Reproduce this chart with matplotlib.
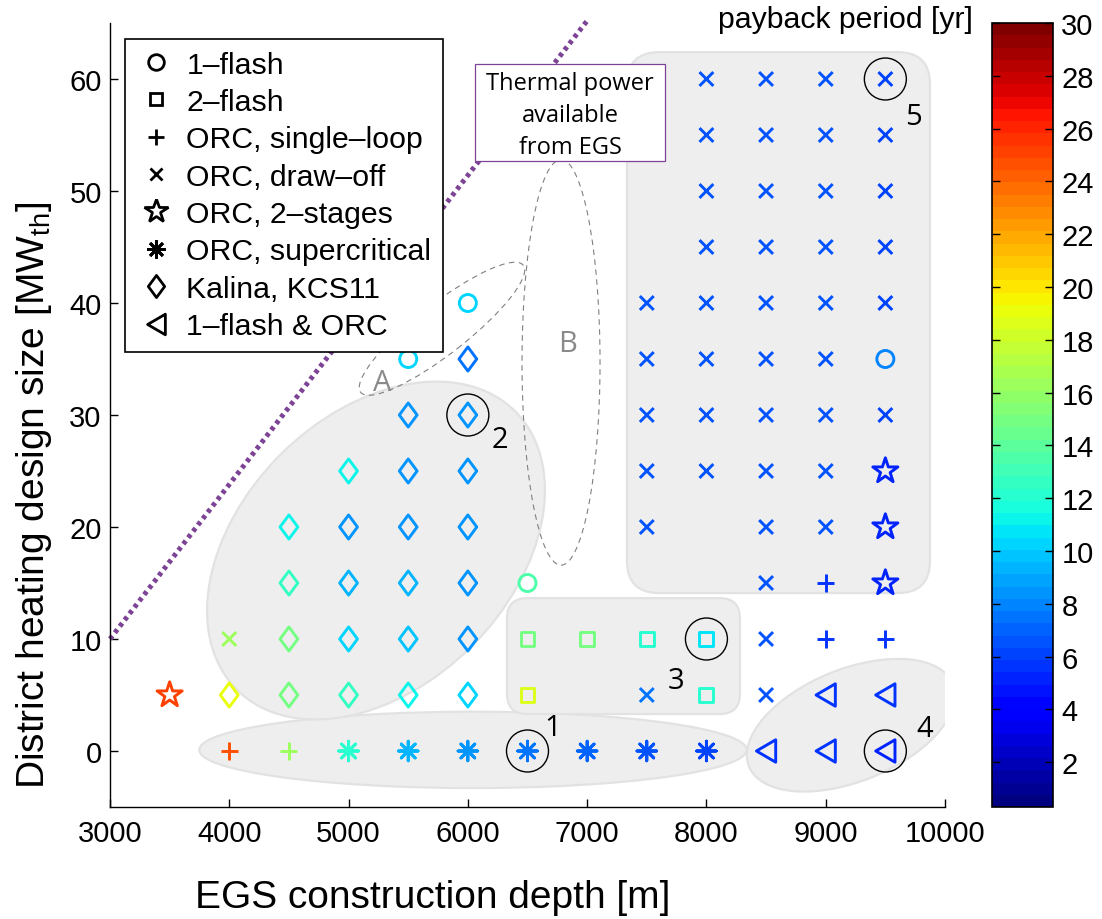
import numpy as np
import matplotlib
matplotlib.use('Agg')
import matplotlib.pyplot as plt
from matplotlib.colors import Normalize
from matplotlib.cm import ScalarMappable
from matplotlib.patches import Ellipse, FancyBboxPatch, Rectangle
from matplotlib.path import Path
from matplotlib.lines import Line2D
from matplotlib.transforms import Affine2D

plt.rcParams['font.family'] = ['Liberation Sans', 'DejaVu Sans']
plt.rcParams['mathtext.fontset'] = 'custom'
plt.rcParams['mathtext.rm'] = 'Liberation Sans'
plt.rcParams['mathtext.it'] = 'Liberation Sans:italic'

# ---- data: EGS depth [m], district heating size [MW_th], payback period [yr]
flash1_depth = [6500, 5500, 9500, 6000]
flash1_size = [15, 35, 35, 40]
flash1_payback = [13.4, 10.4, 8.0, 10.4]

flash2_depth = [6500, 8000, 6500, 7000, 7500, 8000]
flash2_size = [5, 5, 10, 10, 10, 10]
flash2_payback = [18.8, 12.0, 14.9, 14.7, 12.0, 10.6]

single_depth = [4000, 4500, 9000, 9500, 9000]
single_size = [0, 0, 10, 10, 15]
single_payback = [24.5, 16.2, 5.8, 5.8, 5.8]

drawoff_depth = [4000, 7500, 8500, 8500, 8500,
                 7500, 8500, 9000,
                 7500, 8000, 8500, 9000,
                 7500, 8000, 8500, 9000, 9500,
                 7500, 8000, 8500, 9000,
                 7500, 8000, 8500, 9000, 9500,
                 8000, 8500, 9000, 9500,
                 8000, 8500, 9000, 9500,
                 8000, 8500, 9000, 9500,
                 8000, 8500, 9000, 9500]
drawoff_size = [10, 5, 5, 10, 15,
                20, 20, 20,
                25, 25, 25, 25,
                30, 30, 30, 30, 30,
                35, 35, 35, 35,
                40, 40, 40, 40, 40,
                45, 45, 45, 45,
                50, 50, 50, 50,
                55, 55, 55, 55,
                60, 60, 60, 60]
drawoff_payback = [16.2, 7.3, 6.5, 6.5, 6.5,
                   6.6, 6.5, 6.4,
                   6.6, 6.5, 6.5, 6.4,
                   6.6, 6.5, 6.5, 6.4, 6.0,
                   6.6, 6.5, 6.5, 6.4,
                   6.6, 6.5, 6.5, 6.4, 6.0,
                   6.5, 6.5, 6.4, 6.1,
                   6.5, 6.5, 6.4, 6.1,
                   6.5, 6.5, 6.4, 6.1,
                   6.5, 6.5, 6.4, 6.1]

stage2_depth = [3500, 9500, 9500, 9500]
stage2_size = [5, 15, 20, 25]
stage2_payback = [24.9, 5.2, 5.3, 5.4]

super_depth = [5000, 5500, 6000, 6500, 7000, 7500, 8000]
super_size = [0, 0, 0, 0, 0, 0, 0]
super_payback = [12.1, 9.5, 8.5, 7.3, 6.8, 6.4, 6.2]

kalina_depth = [4000, 4500, 5000, 5500, 6000,
                4500, 5000, 5500, 6000,
                4500, 5000, 5500, 6000,
                4500, 5000, 5500, 6000,
                5000, 5500, 6000,
                5500, 6000,
                6000]
kalina_size = [5, 5, 5, 5, 5,
               10, 10, 10, 10,
               15, 15, 15, 15,
               20, 20, 20, 20,
               25, 25, 25,
               30, 30,
               35]
kalina_payback = [19.0, 14.9, 12.4, 11.0, 10.3,
                  14.9, 10.4, 9.8, 8.5,
                  12.6, 9.5, 9.5, 8.5,
                  11.3, 8.5, 8.3, 8.3,
                  11.0, 8.2, 8.2,
                  8.2, 8.2,
                  7.7]

hybrid_depth = [8500, 9000, 9500, 9000, 9500]
hybrid_size = [0, 0, 0, 5, 5]
hybrid_payback = [5.5, 5.5, 5.4, 5.5, 5.5]

cycle_names = ['1\u2013flash', '2\u2013flash', 'ORC, single\u2013loop',
               'ORC, draw\u2013off', 'ORC, 2\u2013stages',
               'ORC, supercritical', 'Kalina, KCS11', '1\u2013flash & ORC']

# highlighted designs 1..5
picked_depth = [6500, 6000, 8000, 9500, 9500]
picked_size = [0, 30, 10, 0, 60]

# thermal power limit of the EGS
limit_depth = [3000, 7000]
limit_size = [10, 65.2]

# ---- markers
diamond = Path([(0, 1), (0.74, 0), (0, -1), (-0.74, 0), (0, 1)],
               [Path.MOVETO, Path.LINETO, Path.LINETO, Path.LINETO, Path.CLOSEPOLY])
left_tri = Path([(-0.86, 0), (0.86, 1), (0.86, -1), (-0.86, 0)],
                [Path.MOVETO, Path.LINETO, Path.LINETO, Path.CLOSEPOLY])
asterisk = (8, 2, 0)

groups = [
    (flash1_depth, flash1_size, flash1_payback, 'o', 150, True),
    (flash2_depth, flash2_size, flash2_payback, 's', 100, True),
    (single_depth, single_size, single_payback, '+', 150, False),
    (drawoff_depth, drawoff_size, drawoff_payback, 'x', 100, False),
    (stage2_depth, stage2_size, stage2_payback, '*', 360, True),
    (super_depth, super_size, super_payback, asterisk, 200, False),
    (kalina_depth, kalina_size, kalina_payback, diamond, 300, True),
    (hybrid_depth, hybrid_size, hybrid_payback, left_tri, 260, True),
]

cmap = plt.get_cmap('jet', 64)
norm = Normalize(vmin=0.3, vmax=30)

W, H = 1102, 920
fig = plt.figure(figsize=(W / 100, H / 100), dpi=100)
ax_box = [110, 112, 835, 784]   # left, bottom, width, height in px
ax = fig.add_axes([ax_box[0] / W, ax_box[1] / H, ax_box[2] / W, ax_box[3] / H])
ax.set_xlim(3000, 10000)
ax.set_ylim(-5, 65)

# shapes are drawn in km units with equal pixel scale on both axes
px_per_km = ax_box[2] / 7.0
px_per_mw = ax_box[3] / 70.0
mw_per_km = px_per_km / px_per_mw
shape_tf = Affine2D().scale(1000, mw_per_km) + ax.transData


def sp(x_m, y_mw):
    return (x_m / 1000.0, y_mw / mw_per_km)


gray_face = '#eeeeee'
gray_edge = '#e2e2e2'

for (cx, cy), w, h, ang in [((6043, 0.1), 4.59, 0.64, 0),
                            ((5230, 17.9), 3.30, 2.27, 45),
                            ((9212, 2.3), 1.845, 0.94, 22)]:
    ax.add_patch(Ellipse(sp(cx, cy), w, h, angle=ang, transform=shape_tf,
                         facecolor=gray_face, edgecolor=gray_edge, lw=1.6, zorder=1))

for (x0, y0), w, h, r in [((6328, 3.3), 1.953, 0.972, 0.17),
                          ((7334, 14.1), 2.54, 4.535, 0.27)]:
    ax.add_patch(FancyBboxPatch(sp(x0, y0), w, h,
                                boxstyle='round,pad=0,rounding_size=%g' % r,
                                transform=shape_tf, facecolor=gray_face,
                                edgecolor=gray_edge, lw=1.6, zorder=1))

# dashed groups A and B
for (cx, cy), w, h, ang in [((5783, 37.7), 1.73, 0.42, 38),
                            ((6781, 34.7), 0.654, 3.40, 0)]:
    ax.add_patch(Ellipse(sp(cx, cy), w, h, angle=ang, transform=shape_tf,
                         facecolor='none', edgecolor='#808080', lw=0.8,
                         linestyle=(0, (5, 4)), zorder=2))
ax.text(5280, 32.9, 'A', color='#8a8a8a', fontsize=21, family='Open Sans',
        ha='center', va='center', zorder=3)
ax.text(6840, 36.4, 'B', color='#8a8a8a', fontsize=21, family='Open Sans',
        ha='center', va='center', zorder=3)

# EGS thermal power line and its label
ax.plot(limit_depth, limit_size, color='#7d4496', lw=3.6,
        linestyle=(0, (0.8, 0.8)), solid_capstyle='butt', zorder=2, clip_on=False)
ax.add_patch(Rectangle((6062, 52.7), 1594, 8.6, facecolor='white',
                       edgecolor='#7d4496', lw=0.9, zorder=4))
ax.text(6859, 56.8, 'Thermal power\navailable\nfrom EGS', fontsize=17,
        family='Open Sans', ha='center', va='center', linespacing=1.45, zorder=5)

# data markers coloured by payback period
for xs, ys, vals, mk, size, filled in groups:
    cols = cmap(norm(np.asarray(vals)))
    if filled:
        ax.scatter(xs, ys, s=size, marker=mk, facecolors='none',
                   edgecolors=cols, linewidths=2.1, zorder=6)
    else:
        ax.scatter(xs, ys, s=size, marker=mk, c=cols, linewidths=2.1, zorder=6)

# circles around the selected designs
for i, (x, y) in enumerate(zip(picked_depth, picked_size)):
    ax.add_patch(Ellipse(sp(x, y), 0.352, 0.352, transform=shape_tf,
                         facecolor='none', edgecolor='black', lw=1.0, zorder=7))
label_offsets = [(18, 17), (23, -18), (-22, -30), (28, 16), (20, -27)]
for i, (x, y) in enumerate(zip(picked_depth, picked_size)):
    ax.annotate(str(i + 1), (x, y), xytext=label_offsets[i], textcoords='offset points',
                fontsize=21, family='Open Sans', ha='center', va='center', zorder=7)

# axes styling
for side in ['top', 'right']:
    ax.spines[side].set_visible(False)
for side in ['left', 'bottom']:
    ax.spines[side].set_linewidth(1.0)
ax.set_xticks(np.arange(3000, 10001, 1000))
ax.set_yticks(np.arange(0, 61, 10))
ax.tick_params(direction='in', length=6, width=1.0, labelsize=21)
ax.tick_params(axis='x', pad=9)
ax.tick_params(axis='y', pad=6)
ax.set_xlabel('EGS construction depth [m]', fontsize=28)
ax.set_ylabel('District heating design size [MW$_{\\mathrm{th}}$]', fontsize=28)
ax.xaxis.set_label_coords((433 - ax_box[0]) / ax_box[2], -72 / ax_box[3])
ax.yaxis.set_label_coords((54 - ax_box[0]) / ax_box[2], (808 - 495) / ax_box[3])

# legend with black symbols
handles = []
for (xs, ys, vals, mk, size, filled), name in zip(groups, cycle_names):
    ms = np.sqrt(size) * 0.92
    handles.append(Line2D([], [], linestyle='none', marker=mk, markersize=ms,
                          markerfacecolor='none', markeredgecolor='black',
                          color='black', markeredgewidth=2.0, label=name))
leg = ax.legend(handles=handles, loc='upper left',
                bbox_to_anchor=((125 - ax_box[0]) / ax_box[2], (808 - 40) / ax_box[3]),
                fontsize=21.8, frameon=True, fancybox=False, framealpha=1,
                edgecolor='black', labelspacing=0.31, handlelength=1.32,
                handletextpad=0.33, borderpad=0.38, borderaxespad=0)
leg.get_frame().set_linewidth(1.2)
leg.set_zorder(10)

# colour bar
cax = fig.add_axes([992 / W, ax_box[1] / H, 61 / W, ax_box[3] / H])
cb = fig.colorbar(ScalarMappable(norm=norm, cmap=cmap), cax=cax)
cb.set_ticks(np.arange(2, 31, 2))
cb.outline.set_linewidth(1.2)
cax.tick_params(direction='in', length=6, width=1.0, labelsize=21, pad=6,
                left=True, right=True)
fig.text(973 / W, 1 - 20 / H, 'payback period [yr]', fontsize=21.8,
         ha='right', va='center')

fig.savefig('out.png', dpi=100)
